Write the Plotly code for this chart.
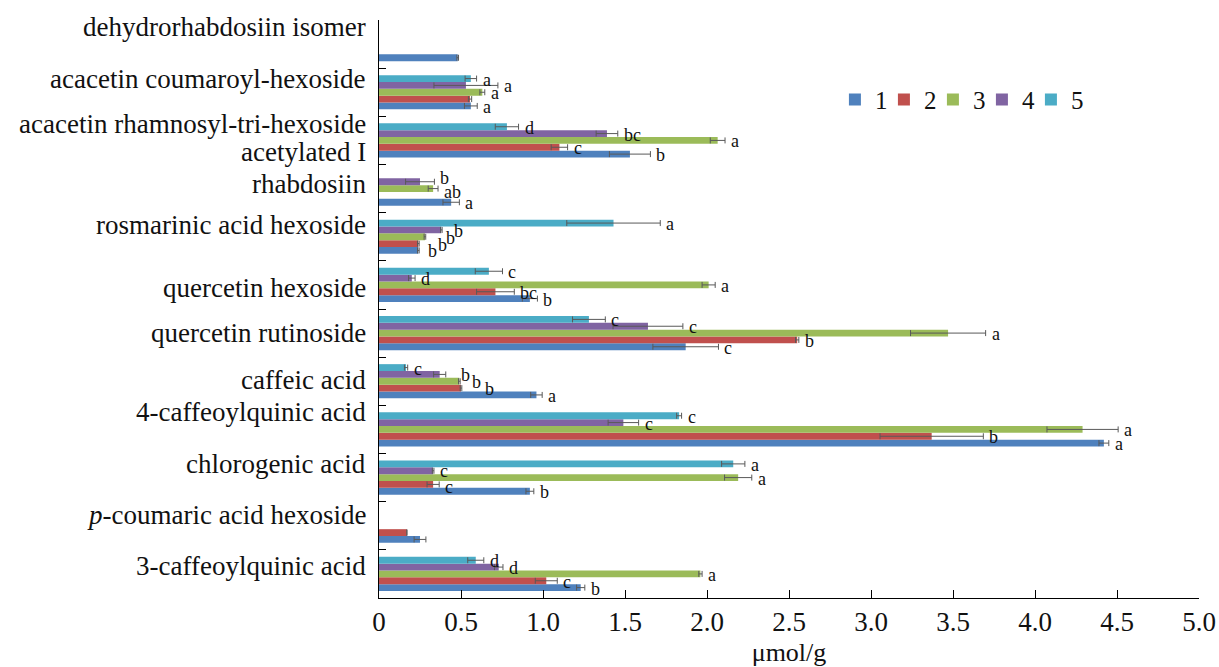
import plotly.graph_objects as go

# ---------------- data (categories bottom -> top) ----------------
categories = [
    "3-caffeoylquinic acid",
    "<i>p</i>-coumaric acid hexoside",
    "chlorogenic acid",
    "4-caffeoylquinic acid",
    "caffeic acid",
    "quercetin rutinoside",
    "quercetin hexoside",
    "rosmarinic acid hexoside",
    "rhabdosiin",
    "acacetin rhamnosyl-tri-hexoside<br>acetylated I",
    "acacetin coumaroyl-hexoside",
    "dehydrorhabdosiin isomer",
]
series_names = ["1", "2", "3", "4", "5"]

values_1 = [1.23, 0.25, 0.92, 4.42, 0.96, 1.87, 0.92, 0.24, 0.44, 1.53, 0.56, 0.48]
values_2 = [1.02, 0.17, 0.33, 3.37, 0.50, 2.55, 0.71, 0.24, None, 1.10, 0.555, None]
values_3 = [1.96, None, 2.19, 4.29, 0.49, 3.47, 2.01, 0.28, 0.33, 2.065, 0.63, None]
values_4 = [0.73, None, 0.33, 1.49, 0.37, 1.64, 0.20, 0.38, 0.25, 1.39, 0.53, None]
values_5 = [0.59, None, 2.16, 1.83, 0.165, 1.28, 0.67, 1.43, None, 0.78, 0.56, None]

errors_1 = [0.025, 0.036, 0.024, 0.03, 0.035, 0.2, 0.046, 0.005, 0.05, 0.125, 0.039, 0.005]
errors_2 = [0.067, 0.0, 0.037, 0.315, 0.005, 0.01, 0.115, 0.005, 0.0, 0.05, 0.01, 0.0]
errors_3 = [0.01, 0.0, 0.083, 0.217, 0.005, 0.229, 0.04, 0.005, 0.03, 0.045, 0.015, 0.0]
errors_4 = [0.026, 0.0, 0.005, 0.093, 0.037, 0.213, 0.02, 0.005, 0.088, 0.066, 0.195, 0.0]
errors_5 = [0.049, 0.0, 0.071, 0.015, 0.01, 0.1, 0.083, 0.285, 0.0, 0.071, 0.035, 0.0]

letters_1 = ["b", "", "b", "a", "a", "c", "b", "b", "a", "b", "a", ""]
letters_2 = ["c", "", "c", "b", "b", "b", "bc", "b", "", "c", "", ""]
letters_3 = ["a", "", "a", "a", "b", "a", "a", "b", "ab", "a", "a", ""]
letters_4 = ["d", "", "c", "c", "b", "c", "d", "b", "b", "bc", "a", ""]
letters_5 = ["d", "", "a", "c", "c", "c", "c", "a", "", "d", "a", ""]

x_tickvals = [0, 0.5, 1.0, 1.5, 2.0, 2.5, 3.0, 3.5, 4.0, 4.5, 5.0]
x_ticktext = ["0", "0.5", "1.0", "1.5", "2.0", "2.5", "3.0", "3.5", "4.0", "4.5", "5.0"]

# ---------------- style ----------------
colors = ["#4F81BD", "#C0504D", "#9BBB59", "#8064A2", "#4BACC6"]
FONT = "Liberation Serif"
BARGAP = 0.29
# per-category-label vertical nudge (px, + = up); lists give one value per text line
label_yshift = [[8], [11], [14], [17], [1], [0], [-3], [12], [5], [16.5, -11.5], [13], [17]]
# small extra nudges for crowded significance letters: (cat, series) -> px
letter_xnudge = {(7, 0): 3, (7, 1): 13, (7, 2): 14, (7, 3): 6,
                 (4, 3): 9, (4, 2): 6, (4, 1): 17}
letter_ynudge = {(8, 3): 5, (8, 2): -2, (2, 3): 1, (2, 1): -2}
legend_entry_w = [4, 4, 4, 4, 14]

all_values = [values_1, values_2, values_3, values_4, values_5]
all_errors = [errors_1, errors_2, errors_3, errors_4, errors_5]
all_letters = [letters_1, letters_2, letters_3, letters_4, letters_5]

fig = go.Figure()
for i in range(5):
    fig.add_trace(go.Bar(
        y=categories, x=all_values[i], orientation="h", name=series_names[i],
        marker=dict(color=colors[i], line=dict(width=0)),
        error_x=dict(type="data", array=all_errors[i], visible=True,
                     color="#595959", thickness=1, width=3),
        legendwidth=legend_entry_w[i],
    ))

annotations = []
n = len(series_names)
bw = (1 - BARGAP) / n
for i in range(n):
    off = -(1 - BARGAP) / 2 + bw * (i + 0.5)
    for c, lab in enumerate(all_letters[i]):
        v = all_values[i][c]
        if not lab or v is None:
            continue
        annotations.append(dict(
            x=v + all_errors[i][c], y=c + off, xref="x", yref="y",
            text=lab, showarrow=False, xanchor="left", yanchor="middle",
            xshift=4 + letter_xnudge.get((c, i), 0),
            yshift=-1 + letter_ynudge.get((c, i), 0),
            font=dict(family=FONT, size=18, color="#111"),
        ))

for c, cat in enumerate(categories):
    for line, ys in zip(cat.split("<br>"), label_yshift[c]):
        annotations.append(dict(
            x=0, y=c, xref="paper", yref="y", text=line, showarrow=False,
            xanchor="right", yanchor="middle", align="right",
            xshift=-11, yshift=ys,
            font=dict(family=FONT, size=27, color="#111"),
        ))

fig.update_layout(
    width=1219, height=667,
    margin=dict(l=379, r=20, t=20, b=69, autoexpand=False),
    barmode="group", bargap=BARGAP, bargroupgap=0,
    plot_bgcolor="white", paper_bgcolor="white",
    font=dict(family=FONT, size=20, color="#111"),
    annotations=annotations,
    legend=dict(orientation="h", x=0.556, xanchor="left", y=0.862, yanchor="middle",
                font=dict(family=FONT, size=25, color="#111"),
                traceorder="normal", bgcolor="rgba(0,0,0,0)"),
    showlegend=True,
)
fig.update_xaxes(
    range=[0, 5], tickvals=x_tickvals, ticktext=x_ticktext, automargin=False,
    showgrid=False, zeroline=False, showline=True, linecolor="black", linewidth=1,
    ticks="inside", ticklen=8, tickcolor="black", ticklabelstandoff=0,
    tickfont=dict(family=FONT, size=27, color="#111"),
    title=dict(text="μmol/g", font=dict(family=FONT, size=26, color="#111"), standoff=18),
)
fig.update_yaxes(
    type="category", range=[-0.5, len(categories) - 0.5], automargin=False,
    showgrid=False, zeroline=False, showline=True, linecolor="black", linewidth=1,
    ticks="inside", tickson="boundaries", ticklen=7, tickcolor="black",
    showticklabels=False,
)

fig.write_html("out.html", config={"displayModeBar": False},
               post_script="document.body.style.margin='0';")
